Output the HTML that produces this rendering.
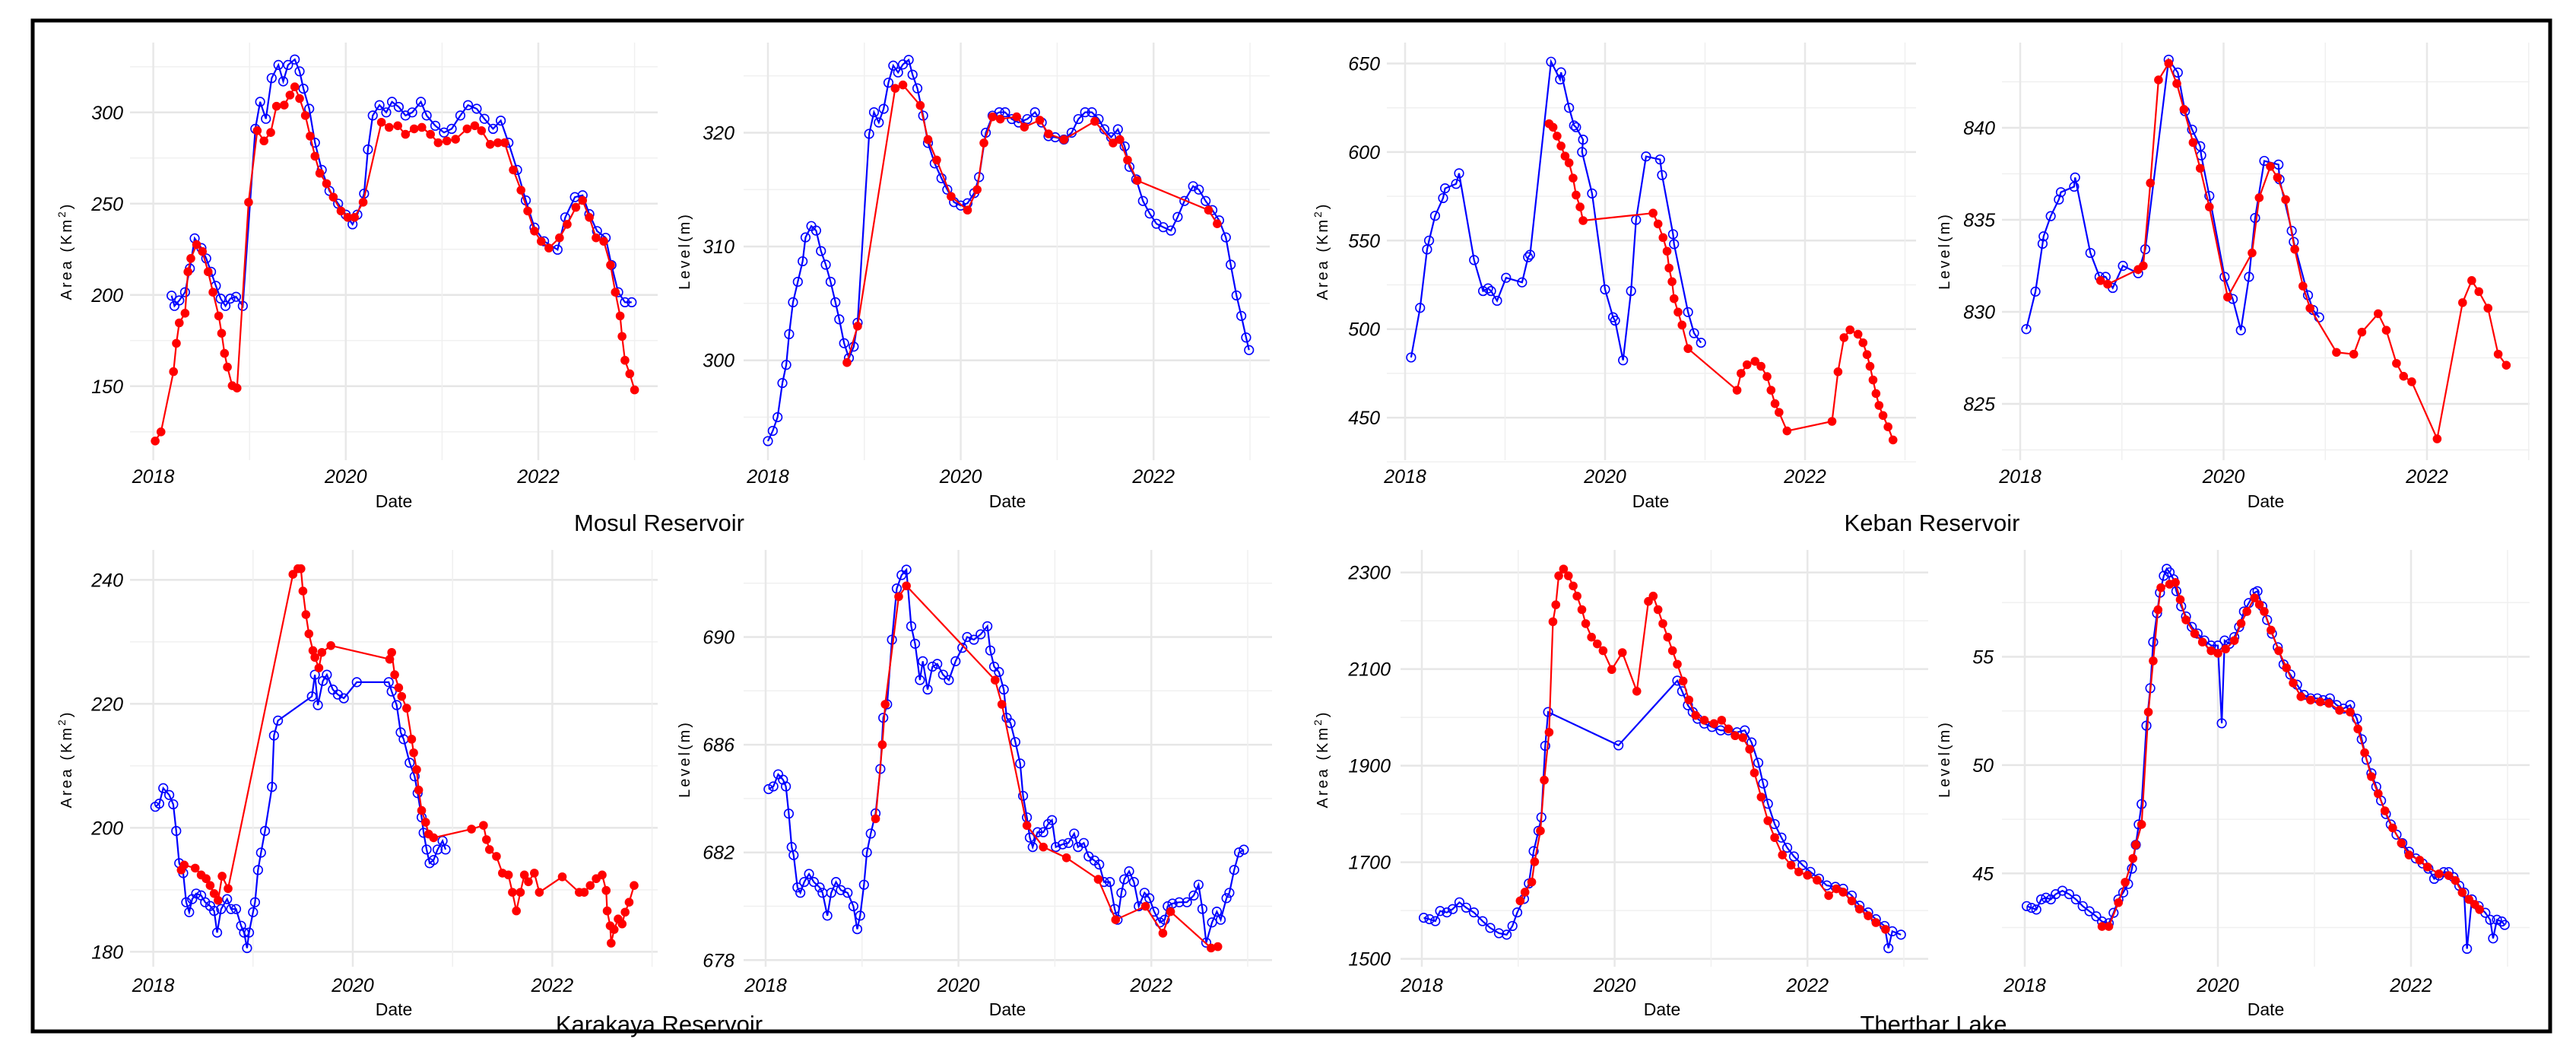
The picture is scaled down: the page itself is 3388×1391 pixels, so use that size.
<!DOCTYPE html>
<html><head><meta charset="utf-8"><style>
html,body{margin:0;padding:0;background:#fff}
svg{display:block}
text{font-family:"Liberation Sans",sans-serif}
.tick{font-size:25px;font-style:italic;fill:#000}
.xt{font-size:23px;fill:#000}
.yt{font-size:20px;fill:#000;letter-spacing:3px}
.title{font-size:31px;fill:#000}
</style></head><body>
<svg id="chart" width="3388" height="1391" viewBox="0 0 3388 1391" xmlns="http://www.w3.org/2000/svg">
<rect x="0" y="0" width="3388" height="1391" fill="#fff"/>
<rect x="43" y="27" width="3311" height="1329" fill="none" stroke="#000" stroke-width="5"/>
<text class="title" x="867" y="698" text-anchor="middle">Mosul Reservoir</text>
<text class="title" x="2541" y="698" text-anchor="middle">Keban Reservoir</text>
<text class="title" x="867" y="1357" text-anchor="middle">Karakaya Reservoir</text>
<text class="title" x="2543" y="1357" text-anchor="middle">Therthar Lake</text>
</svg>
<script>
// Panel 1: Mosul area
const p1BlueDates=[2018.19,2018.22,2018.27,2018.33,2018.38,2018.43,2018.5,2018.55,2018.6,2018.65,2018.7,2018.75,2018.8,2018.86,2018.93,2019.06,2019.11,2019.17,2019.23,2019.3,2019.35,2019.4,2019.47,2019.52,2019.56,2019.62,2019.68,2019.75,2019.83,2019.92,2020.0,2020.07,2020.12,2020.19,2020.23,2020.28,2020.35,2020.42,2020.48,2020.55,2020.62,2020.69,2020.78,2020.84,2020.93,2021.02,2021.1,2021.19,2021.27,2021.36,2021.44,2021.53,2021.61,2021.69,2021.78,2021.87,2021.96,2022.06,2022.2,2022.28,2022.38,2022.46,2022.53,2022.61,2022.7,2022.76,2022.83,2022.9,2022.97];
const p1BlueValues=[199.6,194,197,201.5,214.5,231,225.7,220,212.7,205,198,194,198,199,194,291,305.8,296.5,318.8,326,317,326,329,322.5,313,302,283.4,268.5,257,250,244,238.7,244,255.5,279.7,298.3,304,300,305.8,303,298.3,300,305.8,298.3,292.7,289,291,298.3,304,302,296.5,291,295.5,283.4,268.5,251.8,236.9,229.4,224.8,242.5,253.6,254.6,244.3,235,231.3,216.4,201.5,196,196];
const p1RedDates=[2018.02,2018.08,2018.21,2018.24,2018.27,2018.33,2018.36,2018.39,2018.45,2018.51,2018.57,2018.62,2018.68,2018.71,2018.74,2018.77,2018.82,2018.87,2018.99,2019.08,2019.15,2019.22,2019.28,2019.36,2019.42,2019.47,2019.52,2019.58,2019.63,2019.68,2019.73,2019.8,2019.87,2019.95,2020.02,2020.09,2020.18,2020.37,2020.45,2020.54,2020.62,2020.71,2020.79,2020.88,2020.96,2021.05,2021.14,2021.26,2021.34,2021.41,2021.5,2021.58,2021.65,2021.74,2021.82,2021.89,2021.96,2022.03,2022.11,2022.22,2022.3,2022.39,2022.46,2022.53,2022.6,2022.68,2022.75,2022.8,2022.85,2022.87,2022.9,2022.95,2023.0];
const p1RedValues=[120,125,158,173.5,184.7,190,212.7,220,227.6,223.8,212.7,201.5,188.5,179,168,160.5,150.3,149,250.8,290,284.4,289,303.4,304,309.5,314,307.6,298.3,287,276,266.7,261,253.6,246,242.5,242.5,250.8,294.6,291.8,292.7,288,291,291.8,288,283.4,284.4,285.3,291,292.7,290,282.5,283.4,283.4,268.5,257.4,246,235,229.4,225.7,231.3,238.7,248,251.8,242.5,231.3,229.4,216.4,201.5,188.5,177.3,164.2,156.8,148];
// Panel 2: Mosul level
const p2BlueDates=[2018.0,2018.05,2018.1,2018.15,2018.19,2018.22,2018.26,2018.31,2018.36,2018.39,2018.45,2018.5,2018.55,2018.6,2018.65,2018.7,2018.74,2018.79,2018.84,2018.89,2018.93,2019.05,2019.1,2019.15,2019.2,2019.25,2019.3,2019.35,2019.4,2019.46,2019.5,2019.55,2019.61,2019.66,2019.73,2019.8,2019.86,2019.93,2020.0,2020.07,2020.14,2020.19,2020.26,2020.33,2020.4,2020.46,2020.53,2020.6,2020.69,2020.77,2020.84,2020.91,2020.98,2021.07,2021.15,2021.22,2021.29,2021.36,2021.43,2021.49,2021.56,2021.63,2021.7,2021.75,2021.82,2021.89,2021.96,2022.03,2022.1,2022.18,2022.25,2022.32,2022.41,2022.47,2022.54,2022.61,2022.68,2022.75,2022.8,2022.86,2022.91,2022.96,2022.99];
const p2BlueValues=[292.9,293.8,295,298,299.6,302.3,305.1,306.9,308.7,310.8,311.8,311.4,309.6,308.4,306.9,305.1,303.6,301.5,300.2,301.2,303.3,319.9,321.8,320.9,322.1,324.4,325.9,325.3,326,326.4,325.1,323.9,321.5,319.1,317.3,316,315,313.9,313.6,313.8,314.7,316.1,320,321.5,321.8,321.8,321.2,320.9,321.2,321.8,320.9,319.7,319.6,319.4,320,321.2,321.8,321.8,321.2,320.3,319.6,320.3,318.8,317,315.9,314,312.9,312,311.7,311.4,312.6,314,315.3,315,314,313.2,312.3,310.8,308.4,305.7,303.9,302,300.9];
const p2RedDates=[2018.82,2018.93,2019.32,2019.4,2019.58,2019.66,2019.75,2019.9,2020.07,2020.17,2020.24,2020.33,2020.41,2020.58,2020.66,2020.82,2020.91,2021.07,2021.39,2021.58,2021.65,2021.73,2021.83,2022.57,2022.66];
const p2RedValues=[299.8,303,323.9,324.2,322.4,319.4,317.6,314.4,313.2,315,319.1,321.4,321.2,321.4,320.5,321.1,319.9,319.4,321,319.1,319.4,317.6,315.8,313.2,312];
// Panel 3: Keban area
const p3BlueDates=[2018.06,2018.15,2018.22,2018.24,2018.3,2018.38,2018.4,2018.51,2018.54,2018.69,2018.78,2018.83,2018.86,2018.92,2019.01,2019.17,2019.23,2019.25,2019.46,2019.55,2019.56,2019.64,2019.69,2019.71,2019.78,2019.77,2019.87,2020.0,2020.08,2020.1,2020.18,2020.26,2020.31,2020.41,2020.55,2020.57,2020.68,2020.69,2020.83,2020.89,2020.96];
const p3BlueValues=[484,512,545,550,564,574,579.5,582,588,539,521.5,523,521.5,516,529,526.4,540.6,542,651,641,645,625,615,614,607,600,576.6,522.4,506.7,504.8,482.4,521.5,561.7,597.5,595.8,587,553.6,548,509.6,497.7,492.3];
const p3RedDates=[2019.44,2019.48,2019.52,2019.56,2019.6,2019.64,2019.68,2019.71,2019.75,2019.78,2020.48,2020.53,2020.58,2020.62,2020.64,2020.67,2020.69,2020.73,2020.77,2020.83,2021.32,2021.36,2021.42,2021.5,2021.56,2021.62,2021.66,2021.7,2021.74,2021.82,2022.27,2022.33,2022.39,2022.45,2022.53,2022.58,2022.62,2022.65,2022.68,2022.71,2022.74,2022.78,2022.83,2022.88];
const p3RedValues=[616,614,609,603.4,597.7,593.9,585.3,575.7,569,561.3,565.5,559.4,551.7,544,534.5,526.8,517.2,509.6,502.3,489,465.5,475,479.9,481.8,479,473.2,465.5,457.9,453,442.5,447.9,475.9,495.2,499.6,497.1,492.3,485.6,479,471.3,463.6,456.9,451.2,444.8,437.4];
// Panel 4: Keban level
const p4BlueDates=[2018.06,2018.15,2018.22,2018.23,2018.3,2018.38,2018.4,2018.53,2018.54,2018.69,2018.78,2018.84,2018.91,2019.01,2019.16,2019.23,2019.46,2019.55,2019.62,2019.69,2019.77,2019.78,2019.86,2020.01,2020.09,2020.17,2020.25,2020.31,2020.4,2020.54,2020.55,2020.67,2020.69,2020.83,2020.88,2020.94];
const p4BlueValues=[829.06,831.1,833.7,834.1,835.2,836.1,836.5,836.8,837.3,833.2,831.9,831.9,831.3,832.5,832.1,833.4,843.7,843,840.9,839.9,839,838.5,836.3,831.9,830.7,829,831.9,835.1,838.2,838,837.2,834.4,833.8,830.9,830.1,829.7];
const p4RedDates=[2018.79,2018.86,2019.16,2019.21,2019.28,2019.36,2019.46,2019.54,2019.61,2019.7,2019.77,2019.86,2020.04,2020.28,2020.35,2020.46,2020.53,2020.61,2020.7,2020.78,2020.85,2021.11,2021.28,2021.36,2021.52,2021.6,2021.7,2021.77,2021.85,2022.1,2022.35,2022.44,2022.51,2022.6,2022.7,2022.78];
const p4RedValues=[831.7,831.5,832.3,832.5,837,842.6,843.5,842.4,841,839.2,837.8,835.7,830.8,833.2,836.2,837.9,837.3,836.1,833.4,831.4,830.2,827.8,827.7,828.9,829.9,829,827.2,826.5,826.2,823.1,830.5,831.7,831.1,830.2,827.7,827.1];
// Panel 5: Karakaya area
const p5BlueDates=[2018.02,2018.06,2018.1,2018.16,2018.2,2018.23,2018.26,2018.3,2018.33,2018.36,2018.39,2018.43,2018.48,2018.52,2018.57,2018.61,2018.64,2018.68,2018.74,2018.78,2018.83,2018.88,2018.91,2018.94,2018.96,2019.0,2019.02,2019.05,2019.08,2019.12,2019.19,2019.21,2019.25,2019.59,2019.62,2019.65,2019.7,2019.74,2019.8,2019.85,2019.91,2020.04,2020.36,2020.39,2020.44,2020.48,2020.51,2020.57,2020.62,2020.65,2020.69,2020.71,2020.74,2020.77,2020.81,2020.85,2020.9,2020.93];
const p5BlueValues=[203.4,203.9,206.4,205.3,203.8,199.5,194.3,192.7,188,186.4,188.5,189.4,189.1,188,187.4,186.6,183.1,186.9,188.5,186.9,186.9,184.2,183.1,180.6,183.1,186.4,188,193.2,196,199.5,206.6,214.9,217.3,221.2,224.7,219.8,223.7,224.7,222.3,221.5,220.9,223.5,223.5,222,219.8,215.4,214.3,210.5,208.3,205.6,201.7,199.2,196.5,194.3,194.8,196.5,197.9,196.5];
const p5RedDates=[2018.28,2018.31,2018.42,2018.48,2018.53,2018.57,2018.61,2018.65,2018.69,2018.75,2019.4,2019.45,2019.48,2019.5,2019.53,2019.56,2019.6,2019.62,2019.66,2019.69,2019.78,2020.37,2020.39,2020.42,2020.46,2020.49,2020.54,2020.59,2020.61,2020.64,2020.66,2020.69,2020.73,2020.76,2020.81,2021.19,2021.31,2021.34,2021.37,2021.44,2021.5,2021.56,2021.6,2021.64,2021.68,2021.72,2021.76,2021.82,2021.87,2022.1,2022.27,2022.32,2022.38,2022.44,2022.5,2022.54,2022.55,2022.58,2022.59,2022.62,2022.66,2022.7,2022.73,2022.77,2022.82];
const p5RedValues=[193.2,194,193.5,192.4,191.8,190.7,189.4,188.3,192.2,190.2,240.9,241.8,241.8,238.2,234.4,231.3,228.6,227.5,225.8,228.3,229.4,227.2,228.3,224.7,222.6,221.2,219.3,214.3,212.1,209.4,206.1,202.8,200.9,199,198.4,199.8,200.4,198.1,196.5,195.4,192.7,192.4,189.6,186.6,189.6,192.4,191.3,192.7,189.6,192.1,189.6,189.6,190.7,191.8,192.4,189.9,186.6,184.2,181.4,183.6,185.3,184.5,186.4,188,190.7];
// Panel 6: Karakaya level
const p6BlueDates=[2018.03,2018.08,2018.13,2018.18,2018.21,2018.24,2018.27,2018.29,2018.33,2018.36,2018.4,2018.45,2018.5,2018.56,2018.59,2018.64,2018.68,2018.73,2018.78,2018.85,2018.91,2018.95,2018.98,2019.02,2019.05,2019.09,2019.14,2019.19,2019.22,2019.26,2019.31,2019.36,2019.41,2019.46,2019.51,2019.55,2019.6,2019.63,2019.68,2019.73,2019.78,2019.84,2019.9,2019.97,2020.04,2020.09,2020.16,2020.23,2020.3,2020.33,2020.37,2020.42,2020.47,2020.5,2020.54,2020.59,2020.64,2020.67,2020.71,2020.74,2020.77,2020.82,2020.88,2020.93,2020.97,2021.01,2021.08,2021.14,2021.2,2021.24,2021.3,2021.35,2021.41,2021.46,2021.51,2021.57,2021.62,2021.65,2021.69,2021.72,2021.77,2021.82,2021.87,2021.93,2021.98,2022.03,2022.09,2022.14,2022.17,2022.22,2022.29,2022.37,2022.44,2022.49,2022.53,2022.57,2022.63,2022.68,2022.72,2022.78,2022.81,2022.86,2022.91,2022.96];
const p6BlueValues=[684.35,684.45,684.9,684.7,684.45,683.44,682.2,681.9,680.7,680.5,680.9,681.2,680.9,680.7,680.5,679.65,680.5,680.9,680.6,680.5,680,679.15,679.65,680.8,682,682.7,683.45,685.1,687,687.5,689.9,691.8,692.3,692.5,690.4,689.75,688.4,689.1,688.05,688.9,689,688.6,688.4,689.1,689.6,690,689.9,690.1,690.4,689.5,688.9,688.7,688.05,687,686.8,686.1,685.3,684.1,683.3,682.55,682.2,682.75,682.75,683.05,683.2,682.2,682.3,682.35,682.7,682.2,682.35,681.85,681.7,681.55,680.9,680.9,679.9,679.5,680.5,681,681.3,680.9,680,680.5,680.3,679.8,679.4,679.5,680,680.1,680.15,680.15,680.4,680.8,679.9,678.65,679.4,679.8,679.5,680.3,680.5,681.35,682,682.1];
const p6RedDates=[2019.14,2019.21,2019.24,2019.38,2019.46,2020.38,2020.45,2020.71,2020.88,2021.12,2021.45,2021.63,2021.94,2022.12,2022.2,2022.62,2022.69];
const p6RedValues=[683.25,686,687.5,691.5,691.9,688.4,687.5,683,682.2,681.8,681,679.5,680,679,679.8,678.45,678.5];
// Panel 7: Therthar area
const p7BlueDates=[2018.02,2018.08,2018.14,2018.19,2018.26,2018.32,2018.39,2018.46,2018.54,2018.63,2018.71,2018.8,2018.88,2018.94,2018.99,2019.06,2019.11,2019.16,2019.21,2019.24,2019.28,2019.31,2020.04,2020.65,2020.7,2020.76,2020.81,2020.86,2020.93,2021.01,2021.1,2021.18,2021.27,2021.35,2021.42,2021.49,2021.54,2021.59,2021.66,2021.73,2021.79,2021.86,2021.95,2022.03,2022.12,2022.2,2022.29,2022.37,2022.46,2022.54,2022.63,2022.71,2022.8,2022.84,2022.88,2022.97];
const p7BlueValues=[1585,1582,1578,1599,1596,1603,1617,1606,1596,1578,1564,1553,1550,1568,1596,1624,1656,1723,1765,1793,1941,2011,1942,2076,2054,2025,2011,1997,1987,1980,1973,1973,1969,1973,1948,1906,1863,1821,1779,1751,1730,1712,1694,1680,1666,1652,1649,1645,1631,1610,1596,1582,1568,1522,1557,1550];
const p7RedDates=[2019.02,2019.07,2019.14,2019.17,2019.23,2019.27,2019.32,2019.36,2019.39,2019.42,2019.47,2019.52,2019.57,2019.61,2019.66,2019.7,2019.76,2019.82,2019.88,2019.97,2020.08,2020.23,2020.35,2020.4,2020.45,2020.5,2020.55,2020.6,2020.65,2020.71,2020.77,2020.84,2020.93,2021.03,2021.11,2021.18,2021.25,2021.33,2021.4,2021.45,2021.52,2021.59,2021.66,2021.74,2021.83,2021.91,2022.0,2022.1,2022.22,2022.3,2022.37,2022.46,2022.54,2022.63,2022.71,2022.81];
const p7RedValues=[1620,1638,1659,1701,1765,1870,1969,2198,2233,2293,2307,2293,2272,2251,2223,2194,2166,2152,2138,2099,2134,2054,2240,2251,2223,2194,2166,2138,2110,2075,2036,2004,1994,1987,1994,1976,1962,1958,1934,1885,1835,1786,1751,1715,1694,1680,1673,1663,1631,1645,1638,1620,1603,1589,1575,1561];
// Panel 8: Therthar level
const p8BlueDates=[2018.02,2018.07,2018.12,2018.17,2018.22,2018.27,2018.32,2018.39,2018.46,2018.53,2018.6,2018.67,2018.74,2018.8,2018.87,2018.92,2018.97,2019.02,2019.07,2019.11,2019.15,2019.18,2019.21,2019.26,2019.3,2019.33,2019.37,2019.4,2019.44,2019.47,2019.5,2019.54,2019.57,2019.62,2019.67,2019.73,2019.79,2019.86,2019.93,2020.0,2020.04,2020.07,2020.12,2020.17,2020.22,2020.27,2020.32,2020.38,2020.41,2020.46,2020.51,2020.56,2020.62,2020.68,2020.75,2020.82,2020.89,2020.96,2021.03,2021.09,2021.16,2021.23,2021.3,2021.37,2021.44,2021.49,2021.54,2021.59,2021.64,2021.69,2021.74,2021.79,2021.85,2021.91,2021.98,2022.05,2022.12,2022.18,2022.24,2022.29,2022.34,2022.39,2022.44,2022.5,2022.55,2022.58,2022.63,2022.7,2022.77,2022.82,2022.85,2022.89,2022.94,2022.97];
const p8BlueValues=[43.49,43.41,43.33,43.8,43.88,43.8,44.04,44.2,44.04,43.8,43.49,43.25,43.02,42.78,42.7,43.18,43.8,44.12,44.51,45.22,46.32,47.26,48.2,51.82,53.55,55.68,57.01,57.96,58.74,59.06,58.9,58.58,58.03,57.33,56.86,56.38,56.07,55.75,55.52,55.52,51.93,55.75,55.6,55.91,56.38,57.09,57.48,57.96,58.03,57.33,56.7,56.07,55.44,54.65,54.18,53.71,53.24,53.08,53.08,53,53.08,52.77,52.61,52.77,52.14,51.19,50.25,49.62,49,48.36,47.74,47.26,46.79,46.4,46,45.69,45.46,45.22,44.75,44.9,45.06,45.06,44.83,44.43,44.12,41.52,43.8,43.49,43.18,42.86,42,42.86,42.78,42.62];
const p8RedDates=[2018.8,2018.87,2018.97,2019.04,2019.12,2019.15,2019.21,2019.28,2019.33,2019.38,2019.41,2019.5,2019.56,2019.61,2019.67,2019.76,2019.84,2019.93,2020.0,2020.08,2020.17,2020.24,2020.3,2020.38,2020.43,2020.48,2020.55,2020.63,2020.71,2020.78,2020.86,2020.96,2021.06,2021.15,2021.26,2021.37,2021.45,2021.52,2021.59,2021.66,2021.73,2021.81,2021.9,2021.98,2022.09,2022.17,2022.29,2022.39,2022.46,2022.53,2022.6,2022.66,2022.71];
const p8RedValues=[42.55,42.55,43.65,44.59,45.69,46.32,47.26,52.45,54.81,57.17,58.19,58.35,58.43,57.64,56.7,56.07,55.68,55.28,55.16,55.36,55.75,56.54,57.09,57.72,57.41,57.09,56.23,55.28,54.49,53.79,53.16,53,52.92,52.85,52.53,52.45,51.67,50.57,49.47,48.68,47.89,47.1,46.4,45.85,45.61,45.3,44.98,44.9,44.67,44.12,43.8,43.57,43.33];
// Axis ticks
const p1Ticks=[150,200,250,300];const p1Minor=[125,175,225,275,325];
const p2Ticks=[300,310,320];const p2Minor=[295,305,315,325];
const p3Ticks=[450,500,550,600,650];const p3Minor=[425,475,525,575,625];
const p4Ticks=[825,830,835,840];const p4Minor=[822.5,827.5,832.5,837.5,842.5];
const p5Ticks=[180,200,220,240];const p5Minor=[190,210,230];
const p6Ticks=[678,682,686,690];const p6Minor=[680,684,688,692];
const p7Ticks=[1500,1700,1900,2100,2300];const p7Minor=[1600,1800,2000,2200];
const p8Ticks=[45,50,55];const p8Minor=[42.5,47.5,52.5,57.5];
const yearTicks=[2018,2020,2022];const yearGrid=[2018,2019,2020,2021,2022,2023];

const NS="http://www.w3.org/2000/svg";
const svg=document.getElementById('chart');
function mk(tag,attrs,parent){const e=document.createElementNS(NS,tag);for(const k in attrs)e.setAttribute(k,attrs[k]);(parent||svg).appendChild(e);return e;}

const panels=[
 {id:'mosul-area',x0:201.6,ppy:126.6,vRef:300,yRef:147.8,ppu:2.4,gx0:171,gx1:865,gy0:56,gy1:605,ticks:p1Ticks,minor:p1Minor,lx:162,ty:635,dx:518,dy:667,ax:87,ay:330,atitle:'area',bd:p1BlueDates,bv:p1BlueValues,rd:p1RedDates,rv:p1RedValues},
 {id:'mosul-level',x0:1010,ppy:126.8,vRef:320,yRef:174.5,ppu:14.96,gx0:978,gx1:1670,gy0:56,gy1:605,ticks:p2Ticks,minor:p2Minor,lx:966,ty:635,dx:1325,dy:667,ax:900,ay:330,atitle:'level',bd:p2BlueDates,bv:p2BlueValues,rd:p2RedDates,rv:p2RedValues},
 {id:'keban-area',x0:1848,ppy:131.5,vRef:650,yRef:83.5,ppu:2.328,gx0:1824,gx1:2520,gy0:56,gy1:605,ticks:p3Ticks,minor:p3Minor,lx:1815,ty:635,dx:2171,dy:667,ax:1739,ay:330,atitle:'area',bd:p3BlueDates,bv:p3BlueValues,rd:p3RedDates,rv:p3RedValues},
 {id:'keban-level',x0:2657,ppy:133.75,vRef:840,yRef:168,ppu:24.2,gx0:2633,gx1:3327,gy0:56,gy1:605,ticks:p4Ticks,minor:p4Minor,lx:2624,ty:635,dx:2980,dy:667,ax:2557,ay:330,atitle:'level',bd:p4BlueDates,bv:p4BlueValues,rd:p4RedDates,rv:p4RedValues},
 {id:'karakaya-area',x0:201.6,ppy:131.2,vRef:240,yRef:762.4,ppu:8.15,gx0:171,gx1:865,gy0:723,gy1:1271,ticks:p5Ticks,minor:p5Minor,lx:162,ty:1304,dx:518,dy:1335,ax:87,ay:998,atitle:'area',bd:p5BlueDates,bv:p5BlueValues,rd:p5RedDates,rv:p5RedValues},
 {id:'karakaya-level',x0:1007,ppy:126.8,vRef:690,yRef:837.5,ppu:35.4,gx0:978,gx1:1673,gy0:723,gy1:1271,ticks:p6Ticks,minor:p6Minor,lx:966,ty:1304,dx:1325,dy:1335,ax:900,ay:998,atitle:'level',bd:p6BlueDates,bv:p6BlueValues,rd:p6RedDates,rv:p6RedValues},
 {id:'therthar-area',x0:1870,ppy:126.8,vRef:2300,yRef:752.6,ppu:0.635,gx0:1842,gx1:2536,gy0:723,gy1:1271,ticks:p7Ticks,minor:p7Minor,lx:1829,ty:1304,dx:2186,dy:1335,ax:1739,ay:998,atitle:'area',bd:p7BlueDates,bv:p7BlueValues,rd:p7RedDates,rv:p7RedValues},
 {id:'therthar-level',x0:2663,ppy:127,vRef:55,yRef:863.5,ppu:28.48,gx0:2633,gx1:3327,gy0:723,gy1:1271,ticks:p8Ticks,minor:p8Minor,lx:2622,ty:1304,dx:2980,dy:1335,ax:2557,ay:998,atitle:'level',bd:p8BlueDates,bv:p8BlueValues,rd:p8RedDates,rv:p8RedValues}
];

panels.forEach(p=>{
 const X=t=>p.x0+(t-2018)*p.ppy;
 const Y=v=>p.yRef-(v-p.vRef)*p.ppu;
 const g=mk('g',{});
 
 
 p.minor.forEach(v=>{const l=mk('line',{x1:p.gx0,x2:p.gx1,y1:Y(v),y2:Y(v),stroke:'#f0f0f0','stroke-width':1.5},g);
  });
 p.ticks.forEach(v=>{const l=mk('line',{x1:p.gx0,x2:p.gx1,y1:Y(v),y2:Y(v),stroke:'#e6e6e6','stroke-width':2.5},g);
  
  const t=mk('text',{x:p.lx,y:Y(v)+9,'text-anchor':'end',class:'tick'},g);t.textContent=v;
  });
 yearGrid.forEach(yr=>{const x=X(yr);if(x<p.gx0-1||x>p.gx1+1)return;
  const l=mk('line',{x1:x,x2:x,y1:p.gy0,y2:p.gy1,stroke:yr%2?'#f0f0f0':'#e8e8e8','stroke-width':yr%2?1.5:2.5},g);
  });
 yearTicks.forEach(yr=>{const t=mk('text',{x:X(yr),y:p.ty,'text-anchor':'middle',class:'tick'},g);t.textContent=yr;
  });
 const dt=mk('text',{x:p.dx,y:p.dy,'text-anchor':'middle',class:'xt'},g);dt.textContent='Date';
 
 const at=mk('text',{x:0,y:0,'text-anchor':'middle',class:'yt',transform:`translate(${p.ax+7},${p.ay}) rotate(-90)`},g);
 if(p.atitle==='area'){at.textContent='Area (Km';const s=mk('tspan',{dy:-8,'font-size':14},at);s.textContent='2';const s2=mk('tspan',{dy:8},at);s2.textContent=')';}
 else at.textContent='Level(m)';
 
 const bl=mk('polyline',{points:p.bd.map((d,i)=>X(d)+','+Y(p.bv[i])).join(' '),fill:'none',stroke:'#0000ff','stroke-width':2.2},g);
 
 p.bd.forEach((d,i)=>{const c=mk('circle',{cx:X(d),cy:Y(p.bv[i]),r:5.8,fill:'none',stroke:'#0000ff','stroke-width':1.6},g);
  });
 const rl=mk('polyline',{points:p.rd.map((d,i)=>X(d)+','+Y(p.rv[i])).join(' '),fill:'none',stroke:'#ff0000','stroke-width':2.2},g);
 
 p.rd.forEach((d,i)=>{const c=mk('circle',{cx:X(d),cy:Y(p.rv[i]),r:5.8,fill:'#ff0000'},g);
  });
});
</script>
</body></html>
